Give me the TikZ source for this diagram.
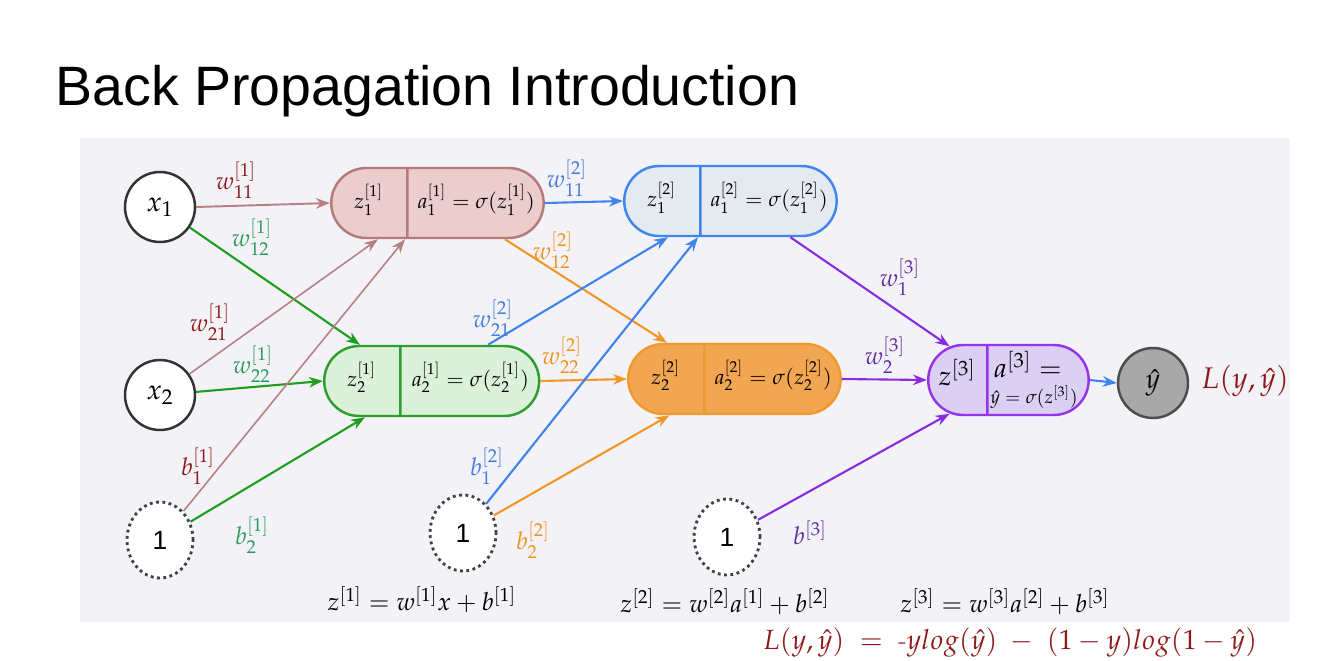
\documentclass[tikz,border=0pt]{standalone}
\usepackage{mathpazo}
\usepackage[no-math]{fontspec}
\usepackage{graphicx}
\newfontfamily\headfont{Liberation Sans}
\usetikzlibrary{shapes.multipart,shapes.geometric,arrows.meta,positioning}

\definecolor{panel}{HTML}{F3F3F7}
\definecolor{redline}{HTML}{B88080}
\definecolor{redtext}{HTML}{8E1B1B}
\definecolor{greenline}{HTML}{1E9E1E}
\definecolor{greentext}{HTML}{2A9A5C}
\definecolor{blueline}{HTML}{3F82F0}
\definecolor{bluetext}{HTML}{4479E0}
\definecolor{orangeline}{HTML}{F3962A}
\definecolor{orangetext}{HTML}{F0921E}
\definecolor{purpleline}{HTML}{8A2BE2}
\definecolor{purpletext}{HTML}{5E2A9E}
\definecolor{lonefill}{HTML}{EBCDCD}
\definecolor{loneline}{HTML}{B47B7B}
\definecolor{ltwofill}{HTML}{DCF1D9}
\definecolor{ltwoline}{HTML}{2E9E2E}
\definecolor{lthreefill}{HTML}{E4EAEF}
\definecolor{lthreeline}{HTML}{3F86F2}
\definecolor{lfourfill}{HTML}{F2A651}
\definecolor{lfourline}{HTML}{EF9A2C}
\definecolor{outfill}{HTML}{DCCFF4}
\definecolor{outline}{HTML}{9535E8}
\definecolor{yhatfill}{HTML}{A8A8A8}

\newcommand{\partstrut}{\rule[-0.6cm]{0pt}{1.4cm}}

\begin{document}
\begin{tikzpicture}[x=0.02cm,y=-0.02cm,
unit/.style={circle,draw=black!80,line width=1.4pt,fill=white,minimum size=1.4cm,inner sep=0pt,font=\fontsize{16}{18}\selectfont},
bias/.style={ellipse,draw=black!75,dotted,line width=1.6pt,fill=white,minimum width=1.32cm,minimum height=1.52cm,inner sep=0pt,font=\headfont\fontsize{15}{18}\selectfont},
layer/.style={rectangle split,rectangle split horizontal,rectangle split parts=2,rounded corners=0.7cm,line width=1.4pt,inner xsep=0pt,inner ysep=0pt,anchor=west,font=\fontsize{12}{14}\selectfont},
wlabel/.style={font=\fontsize{14}{16}\selectfont,inner sep=1pt},
eqn/.style={font=\fontsize{14.2}{17}\selectfont,inner sep=1pt},
link/.style={-{Stealth[length=8pt,width=6pt]},line width=1.2pt}]

\useasboundingbox (0,0) rectangle (1327,660);
\fill[white] (0,0) rectangle (1327,660);
\fill[panel] (80,138) rectangle (1290,622);

\node[anchor=base west,inner sep=0pt,font=\headfont\fontsize{31.6}{36}\selectfont]
(title)
at (55,105)
{Back Propagation Introduction};

\node[unit]
(x1)
at (160,207)
{$x_1$};

\node[unit]
(x2)
at (160,395)
{$x_2$};

\node[bias]
(one1)
at (160,540)
{1};

\node[bias]
(one2)
at (463,533)
{1};

\node[bias]
(one3)
at (727,537)
{1};

\node[layer,draw=loneline,fill=lonefill]
(l1a)
at (330,203)
{\partstrut\makebox[1.5cm]{$z_1^{[1]}$}\nodepart{two}\partstrut\makebox[2.7cm]{$a_1^{[1]}=\sigma(z_1^{[1]})$}};

\node[layer,draw=ltwoline,fill=ltwofill]
(l1b)
at (323,381)
{\partstrut\makebox[1.5cm]{$z_2^{[1]}$}\nodepart{two}\partstrut\makebox[2.75cm]{$a_2^{[1]}=\sigma(z_2^{[1]})$}};

\node[layer,draw=lthreeline,fill=lthreefill]
(l2a)
at (623,201)
{\partstrut\makebox[1.5cm]{$z_1^{[2]}$}\nodepart{two}\partstrut\makebox[2.7cm]{$a_1^{[2]}=\sigma(z_1^{[2]})$}};

\node[layer,draw=lfourline,fill=lfourfill]
(l2b)
at (627,379)
{\partstrut\makebox[1.5cm]{$z_2^{[2]}$}\nodepart{two}\partstrut\makebox[2.7cm]{$a_2^{[2]}=\sigma(z_2^{[2]})$}};

\node[layer,draw=outline,fill=outfill]
(l3)
at (927,380)
{\partstrut\makebox[1.16cm]{\fontsize{15.5}{18}\selectfont$z^{[3]}$}\nodepart{two}\partstrut\parbox[c]{2cm}{\hspace{3pt}{\fontsize{15.5}{18}\selectfont$a^{[3]}=$}\\[1pt]\hspace*{1pt}{\fontsize{10.5}{12}\selectfont$\hat{y}=\sigma(z^{[3]})$}}};

\node[unit,fill=yhatfill,draw=black!70]
(yhat)
at (1153,383)
{$\hat{y}$};

\node[font=\fontsize{17}{20}\selectfont,text=redtext]
(loss)
at (1245,381)
{$L(y,\hat{y})$};

\draw[link,draw=redline,line width=1.1pt]
(x1.east)
--
(l1a.west);

\draw[link,draw=greenline]
(x1)
--
([xshift=0.74cm]l1b.north west);

\draw[link,draw=redline,line width=0.9pt]
(x2)
--
([xshift=0.96cm]l1a.south west);

\draw[link,draw=greenline]
(x2)
--
(l1b.west);

\draw[link,draw=redline,line width=0.9pt]
(one1)
--
([xshift=1.5cm]l1a.south west);

\draw[link,draw=greenline]
(one1)
--
([xshift=0.84cm]l1b.south west);

\draw[link,draw=blueline]
(l1a.east)
--
(l2a.west);

\draw[link,draw=orangeline]
([xshift=-0.8cm]l1a.south east)
--
([xshift=0.8cm]l2b.north west);

\draw[link,draw=blueline]
([xshift=3.3cm]l1b.north west)
--
([xshift=0.9cm]l2a.south west);

\draw[link,draw=orangeline]
(l1b.east)
--
(l2b.west);

\draw[link,draw=blueline]
(one2)
--
([xshift=1.5cm]l2a.south west);

\draw[link,draw=orangeline]
(one2)
--
([xshift=0.85cm]l2b.south west);

\draw[link,draw=purpleline]
([xshift=-0.95cm]l2a.south east)
--
([xshift=0.45cm,yshift=-0.05cm]l3.north west);

\draw[link,draw=purpleline]
(l2b.east)
--
(l3.west);

\draw[link,draw=purpleline]
(one3)
--
([xshift=0.45cm,yshift=0.05cm]l3.south west);

\draw[link,draw=blueline]
(l3.east)
--
(yhat.west);

\node[wlabel,text=redtext]
(w11a)
at (236,180)
{$w_{11}^{[1]}$};

\node[wlabel,text=greentext]
(w12a)
at (252,237)
{$w_{12}^{[1]}$};

\node[wlabel,text=redtext]
(w21a)
at (210,322)
{$w_{21}^{[1]}$};

\node[wlabel,text=greentext]
(w22a)
at (253,364)
{$w_{22}^{[1]}$};

\node[wlabel,text=redtext]
(b1a)
at (198,466)
{$b_1^{[1]}$};

\node[wlabel,text=greentext]
(b2a)
at (252,535)
{$b_2^{[1]}$};

\node[wlabel,text=bluetext]
(w11b)
at (567,178)
{$w_{11}^{[2]}$};

\node[wlabel,text=orangetext]
(w12b)
at (553,250)
{$w_{12}^{[2]}$};

\node[wlabel,text=bluetext]
(w21b)
at (493,318)
{$w_{21}^{[2]}$};

\node[wlabel,text=orangetext]
(w22b)
at (562,355)
{$w_{22}^{[2]}$};

\node[wlabel,text=bluetext]
(b1b)
at (487,466)
{$b_1^{[2]}$};

\node[wlabel,text=orangetext]
(b2b)
at (533,540)
{$b_2^{[2]}$};

\node[wlabel,text=purpletext]
(w1c)
at (900,277)
{$w_1^{[3]}$};

\node[wlabel,text=purpletext]
(w2c)
at (885,355)
{$w_2^{[3]}$};

\node[wlabel,text=purpletext]
(b3)
at (810,533)
{$b^{[3]}$};

\node[eqn]
(zone)
at (422,600)
{$z^{[1]}=w^{[1]}x+b^{[1]}$};

\node[eqn]
(ztwo)
at (725,602)
{$z^{[2]}=w^{[2]}a^{[1]}+b^{[2]}$};

\node[eqn]
(zthree)
at (1005,602)
{$z^{[3]}=w^{[3]}a^{[2]}+b^{[3]}$};

\node[font=\fontsize{15.8}{19}\selectfont,text=redtext,inner sep=1pt]
(lossfull)
at (1010,642)
{$L(y,\hat{y})\;=\;\mbox{-}ylog(\hat{y})\;-\;(1-y)log(1-\hat{y})$};

\end{tikzpicture}
\end{document}
